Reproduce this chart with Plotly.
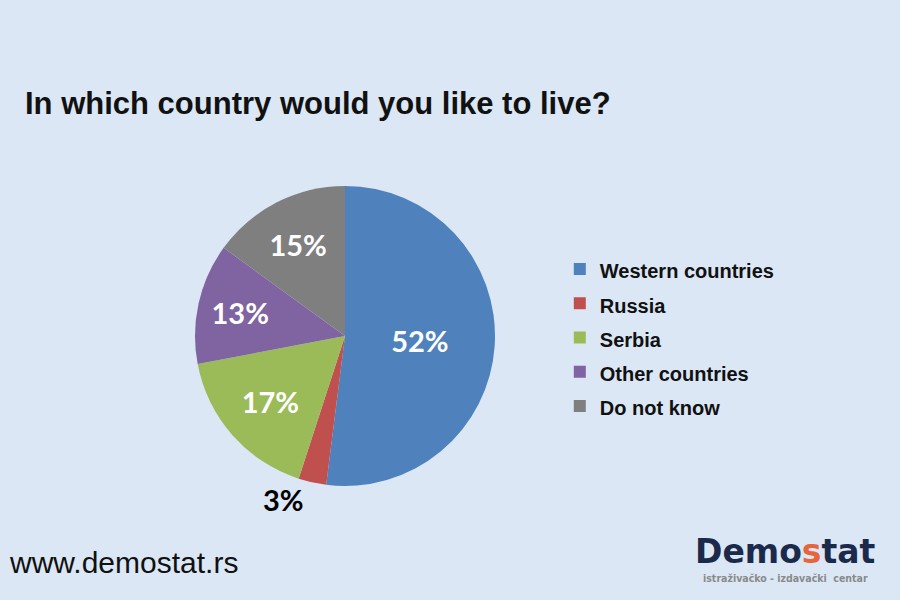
import plotly.graph_objects as go

categories = ["Western countries", "Russia", "Serbia", "Other countries", "Do not know"]
values = [52, 3, 17, 13, 15]
colors = ["#4F81BD", "#C0504D", "#9BBB59", "#8064A2", "#7F7F7F"]
text_positions = ["inside", "outside", "inside", "inside", "inside"]

legend_labels = ['<span style="font-size:20px">%s</span>' % c for c in categories]

fig = go.Figure()
fig.add_trace(go.Pie(
    labels=legend_labels,
    values=values,
    sort=False,
    direction="clockwise",
    rotation=0,
    marker=dict(colors=colors, line=dict(width=0)),
    texttemplate="%{value}%",
    textposition=text_positions,
    insidetextorientation="horizontal",
    insidetextfont=dict(family="Lato, Open Sans, sans-serif", size=29, color="white", weight="bold"),
    outsidetextfont=dict(family="Lato, Open Sans, sans-serif", size=29, color="black", weight="bold"),
    domain=dict(x=[195/900, 495/900], y=[114/600, 414/600]),
    hoverinfo="skip",
    showlegend=True,
))

fig.update_layout(
    width=900, height=600,
    margin=dict(l=0, r=0, t=0, b=0),
    paper_bgcolor="#DBE7F5",
    plot_bgcolor="#DBE7F5",
    title=dict(
        text="<b>In which country would you like to live?</b>",
        x=25/900, xanchor="left", xref="paper",
        y=1-103/600, yanchor="middle", yref="paper",
        font=dict(family="Liberation Sans, Arial, sans-serif", size=31, color="#111111"),
    ),
    legend=dict(
        x=0.622, y=1-247/600, xanchor="left", yanchor="top",
        font=dict(family="Liberation Sans, Arial, sans-serif", size=24, color="#111111", weight="bold"),
        bgcolor="rgba(0,0,0,0)",
    ),
    annotations=[
        dict(text="www.demostat.rs", x=7/900, y=1-562/600, xref="paper", yref="paper",
             xanchor="left", yanchor="middle", showarrow=False,
             font=dict(family="Liberation Sans, Arial, sans-serif", size=30, color="#111111")),
        dict(text='Demo<span style="color:#E8643C">s</span>tat', x=785/900, y=1-551/600,
             xref="paper", yref="paper", xanchor="center", yanchor="middle", showarrow=False,
             font=dict(family="DejaVu Sans, sans-serif", size=33, color="#1B2A4A", weight=600)),
        dict(text="<b>istraživačko - izdavački  centar</b>", x=785/900, y=1-578/600,
             xref="paper", yref="paper", xanchor="center", yanchor="middle", showarrow=False,
             font=dict(family="DejaVu Sans Condensed, DejaVu Sans, sans-serif", size=10.5, color="#8A8A8A")),
    ],
)

fig.write_html("out.html", config={"displayModeBar": False},
               post_script="document.body.style.margin='0';document.body.style.padding='0';")
